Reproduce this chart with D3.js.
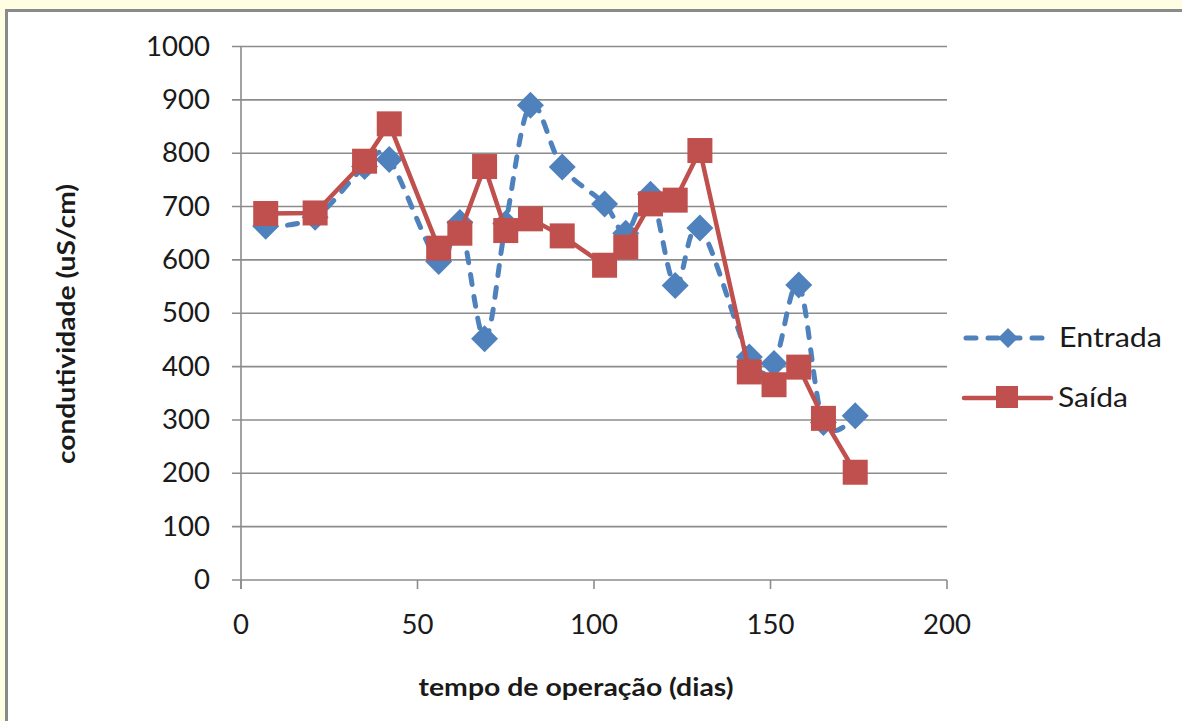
<!DOCTYPE html>
<html>
<head>
<meta charset="utf-8">
<script src="https://cdn.jsdelivr.net/npm/d3@7/dist/d3.min.js"></script>
<style>
  html, body { margin: 0; padding: 0; background: #fffee3; }
  svg { display: block; }
  text { font-family: Lato, "Open Sans", sans-serif; fill: #1a1a1a; }
</style>
</head>
<body>
<svg id="chart" width="1182" height="721"></svg>
<script>
// Operating time (days) at each sampling
const days = [7, 21, 35, 42, 56, 62, 69, 75, 82, 91, 103, 109, 116, 123, 130, 144, 151, 158, 165, 174];
// Conductivity (uS/cm) at the inlet
const entrada = [663, 680, 775, 788, 597, 670, 452, 668, 890, 774, 705, 650, 723, 552, 660, 418, 406, 553, 295, 308];
// Conductivity (uS/cm) at the outlet
const saida = [687, 688, 785, 855, 622, 650, 775, 655, 677, 645, 590, 624, 705, 712, 805, 390, 366, 399, 303, 202];
const xTicks = [0, 50, 100, 150, 200];
const yTicks = [0, 100, 200, 300, 400, 500, 600, 700, 800, 900, 1000];

const svg = d3.select("#chart");
const W = 1182, H = 721;

// framed white chart area
svg.append("rect").attr("x", 0).attr("y", 0).attr("width", W).attr("height", H).attr("fill", "#fffee3");
svg.append("rect").attr("x", 6.5).attr("y", 10.5).attr("width", W).attr("height", H)
  .attr("fill", "#ffffff").attr("stroke", "#8a8a8a").attr("stroke-width", 3);

const x = d3.scaleLinear().domain([0, 200]).range([241, 947]);
const y = d3.scaleLinear().domain([0, 1000]).range([580, 46.5]);

// horizontal gridlines with left ticks
const grid = svg.append("g");
grid.selectAll("line").data(yTicks).join("line")
  .attr("x1", 232).attr("x2", x(200))
  .attr("y1", d => y(d)).attr("y2", d => y(d))
  .attr("stroke", "#8c8c8c").attr("stroke-width", 1.6);

// y axis line
svg.append("line").attr("x1", x(0)).attr("x2", x(0)).attr("y1", y(1000)).attr("y2", y(0) + 9)
  .attr("stroke", "#8c8c8c").attr("stroke-width", 1.6);

// x axis ticks
svg.append("g").selectAll("line").data(xTicks).join("line")
  .attr("x1", d => x(d)).attr("x2", d => x(d)).attr("y1", y(0)).attr("y2", y(0) + 9)
  .attr("stroke", "#8c8c8c").attr("stroke-width", 1.6);

// tick labels (slightly widened digits)
const digitW = 16;
svg.append("g").selectAll("text").data(yTicks).join("text")
  .attr("x", 210).attr("y", d => y(d)).attr("dy", "0.35em")
  .attr("text-anchor", "end").attr("font-size", 26)
  .attr("textLength", d => String(d).length * digitW).attr("lengthAdjust", "spacingAndGlyphs")
  .text(d => d);
svg.append("g").selectAll("text").data(xTicks).join("text")
  .attr("x", d => x(d)).attr("y", 625).attr("dy", "0.35em")
  .attr("text-anchor", "middle").attr("font-size", 26)
  .attr("textLength", d => String(d).length * digitW).attr("lengthAdjust", "spacingAndGlyphs")
  .text(d => d);

// axis titles
svg.append("text").attr("x", 576).attr("y", 688).attr("dy", "0.35em")
  .attr("text-anchor", "middle").attr("font-size", 24).attr("font-weight", "bold")
  .attr("textLength", 315).attr("lengthAdjust", "spacingAndGlyphs")
  .text("tempo de operação (dias)");
svg.append("text").attr("transform", "translate(67,324) rotate(-90)").attr("dy", "0.35em")
  .attr("text-anchor", "middle").attr("font-size", 24).attr("font-weight", "bold")
  .attr("textLength", 280).attr("lengthAdjust", "spacingAndGlyphs")
  .text("condutividade (uS/cm)");

const blue = "#4f81bd", red = "#c0504d";
const diamond = (cx, cy, r) => `M${cx},${cy - r}L${cx + r},${cy}L${cx},${cy + r}L${cx - r},${cy}Z`;

// Entrada: smoothed dashed line with diamonds
const ptsE = days.map((d, i) => [x(d), y(entrada[i])]);
svg.append("path").attr("d", d3.line().curve(d3.curveCatmullRom.alpha(0))(ptsE))
  .attr("fill", "none").attr("stroke", blue).attr("stroke-width", 5)
  .attr("stroke-dasharray", "10,12").attr("stroke-linecap", "round");
svg.append("g").selectAll("path").data(ptsE).join("path")
  .attr("d", p => diamond(p[0], p[1], 13.5)).attr("fill", blue);

// Saída: straight solid line with squares
const ptsS = days.map((d, i) => [x(d), y(saida[i])]);
svg.append("path").attr("d", d3.line()(ptsS))
  .attr("fill", "none").attr("stroke", red).attr("stroke-width", 4.5).attr("stroke-linejoin", "round");
svg.append("g").selectAll("rect").data(ptsS).join("rect")
  .attr("x", p => p[0] - 12.5).attr("y", p => p[1] - 12.5)
  .attr("width", 25).attr("height", 25).attr("fill", red);

// legend
const lg = svg.append("g");
lg.append("line").attr("x1", 966).attr("x2", 1050).attr("y1", 338).attr("y2", 338)
  .attr("stroke", blue).attr("stroke-width", 5).attr("stroke-dasharray", "10,12").attr("stroke-linecap", "round");
lg.append("path").attr("d", diamond(1008, 338, 10)).attr("fill", blue);
lg.append("text").attr("x", 1059).attr("y", 338).attr("dy", "0.35em").attr("font-size", 26)
  .attr("textLength", 103).attr("lengthAdjust", "spacingAndGlyphs").text("Entrada");
lg.append("line").attr("x1", 964).attr("x2", 1051).attr("y1", 398).attr("y2", 398)
  .attr("stroke", red).attr("stroke-width", 4.5).attr("stroke-linecap", "round");
lg.append("rect").attr("x", 996).attr("y", 386).attr("width", 22).attr("height", 22).attr("fill", red);
lg.append("text").attr("x", 1058).attr("y", 398).attr("dy", "0.35em").attr("font-size", 26)
  .attr("textLength", 70).attr("lengthAdjust", "spacingAndGlyphs").text("Saída");
</script>
</body>
</html>
